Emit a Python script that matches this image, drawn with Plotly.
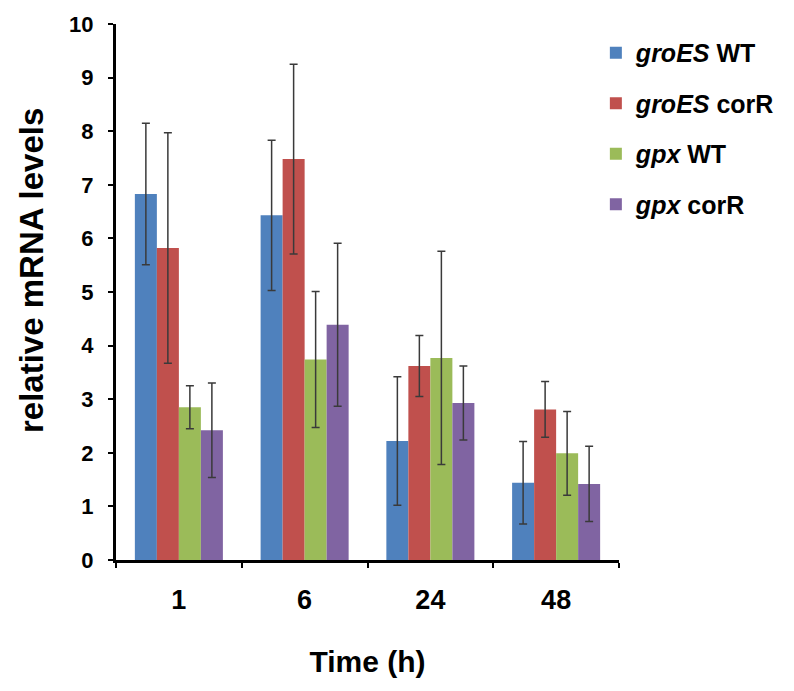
import plotly.graph_objects as go

categories = ["1", "6", "24", "48"]
series_names = ["<i>groES</i> WT", "<i>groES</i> corR", "<i>gpx</i> WT", "<i>gpx</i> corR"]
groES_WT = [6.83, 6.43, 2.22, 1.44]
groES_corR = [5.82, 7.48, 3.62, 2.81]
gpx_WT = [2.85, 3.74, 3.77, 1.99]
gpx_corR = [2.42, 4.39, 2.93, 1.42]
groES_WT_err = [1.32, 1.40, 1.20, 0.77]
groES_corR_err = [2.15, 1.77, 0.57, 0.52]
gpx_WT_err = [0.40, 1.27, 1.99, 0.78]
gpx_corR_err = [0.88, 1.52, 0.69, 0.70]
colors = ["#4F81BD", "#C0504D", "#9BBB59", "#8064A2"]
y_title = "relative mRNA levels"
x_title = "Time (h)"

values = [groES_WT, groES_corR, gpx_WT, gpx_corR]
errors = [groES_WT_err, groES_corR_err, gpx_WT_err, gpx_corR_err]

fig = go.Figure()
for i, (name, vals, errs, col) in enumerate(zip(series_names, values, errors, colors)):
    fig.add_trace(go.Bar(
        x=categories, y=vals, name=name, marker=dict(color=col, line=dict(width=0)),
        error_y=dict(type="data", array=errs, visible=True, color="#3a3a3a",
                     thickness=1.5, width=4),
        legendgroup=f"g{i}",
    ))

font_family = "Liberation Sans, Arial, sans-serif"
fig.update_layout(
    width=786, height=683,
    barmode="group", bargap=0.3, bargroupgap=0,
    plot_bgcolor="white", paper_bgcolor="white",
    margin=dict(l=108, r=175, t=16, b=131),
    font=dict(family=font_family, color="black"),
    showlegend=True,
    legend=dict(x=0.954, y=0.989, xanchor="left", yanchor="top",
                font=dict(size=25, weight="bold", family=font_family),
                traceorder="grouped", tracegroupgap=15,
                bgcolor="rgba(0,0,0,0)", itemwidth=30),
    xaxis=dict(
        automargin=False,
        showline=True, linecolor="black", linewidth=3,
        ticks="outside", tickson="boundaries", ticklen=5, tickwidth=2, tickcolor="black",
        tickfont=dict(size=27, weight="bold", family=font_family),
        ticklabelstandoff=14,
        title=dict(text=x_title, font=dict(size=30, weight="bold", family=font_family), standoff=37),
        showgrid=False,
    ),
    yaxis=dict(
        automargin=False,
        range=[0, 10], dtick=1,
        showline=True, linecolor="black", linewidth=3,
        ticks="outside", ticklen=5, tickwidth=2, tickcolor="black",
        tickfont=dict(size=22, weight="bold", family=font_family),
        ticklabelstandoff=10,
        showgrid=False, zeroline=False,
    ),
    annotations=[dict(
        text=y_title, textangle=-90, showarrow=False,
        xref="paper", yref="paper", x=-0.169, y=0.541,
        xanchor="center", yanchor="middle",
        font=dict(size=33, weight="bold", family=font_family),
    )],
)

fig.write_html("out.html")
